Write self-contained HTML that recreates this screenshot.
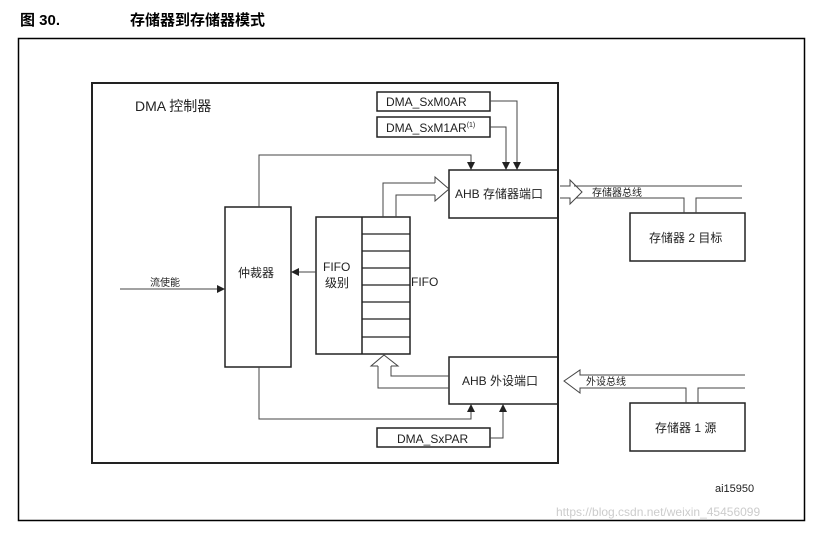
<!DOCTYPE html><html><head><meta charset="utf-8"><style>
body{margin:0;background:#fff;width:827px;height:530px;overflow:hidden}
</style></head><body>
<svg width="827" height="530" xmlns="http://www.w3.org/2000/svg" font-family="Liberation Sans, Noto Sans CJK SC, sans-serif">
<text x="20" y="25" font-size="15" font-weight="bold">图 30.</text>
<text x="130" y="25" font-size="15" font-weight="bold" font-family="Noto Sans CJK SC, sans-serif">存储器到存储器模式</text>
<rect x="18.5" y="38.5" width="786" height="482" fill="none" stroke="#000" stroke-width="1.5"/>
<rect x="92" y="83" width="466" height="380" fill="none" stroke="#222" stroke-width="2"/>
<text x="135" y="111" font-size="14" fill="#222">DMA 控制器</text>
<g fill="none" stroke="#222" stroke-width="1.5">
<rect x="377" y="92" width="113" height="19"/>
<rect x="377" y="117" width="113" height="20"/>
<rect x="449" y="170" width="109" height="48"/>
<rect x="225" y="207" width="66" height="160"/>
<rect x="316" y="217" width="94" height="137"/>
<line x1="362" y1="217" x2="362" y2="354"/>
<rect x="449" y="357" width="109" height="47"/>
<rect x="377" y="428" width="113" height="19"/>
<rect x="630" y="213" width="115" height="48"/>
<rect x="630" y="403" width="115" height="48"/>
</g>
<g stroke="#222" stroke-width="1.2">
<line x1="362" y1="234" x2="410" y2="234"/><line x1="362" y1="251" x2="410" y2="251"/>
<line x1="362" y1="268" x2="410" y2="268"/><line x1="362" y1="285" x2="410" y2="285"/>
<line x1="362" y1="302" x2="410" y2="302"/><line x1="362" y1="319" x2="410" y2="319"/>
<line x1="362" y1="337" x2="410" y2="337"/>
</g>
<g fill="none" stroke="#444" stroke-width="1">
<polyline points="490,101 517,101 517,163"/>
<polyline points="490,127 506,127 506,163"/>
<polyline points="259,207 259,155 471,155 471,163"/>
<polyline points="259,367 259,419 471,419 471,411"/>
<polyline points="490,438 503,438 503,411"/>
<line x1="316" y1="272" x2="298" y2="272"/>
<line x1="120" y1="289" x2="218" y2="289"/>
<polyline points="383,217 383,183 435,183"/>
<polyline points="396,217 396,195 435,195"/>
<polyline points="435,183 435,177 449,189 435,201 435,195"/>
<polyline points="449,376 391,376 391,366"/>
<polyline points="449,388 378,388 378,366"/>
<polyline points="378,366 371,366 384,355 398,366 391,366"/>
<polyline points="560,186 570,186 570,180 582,192 570,204 570,198 560,198"/>
<polyline points="574,186 742,186"/>
<polyline points="576,198 684,198 684,213"/>
<polyline points="696,213 696,198 742,198"/>
<polyline points="745,375 580,375 580,370 564,381 580,393 580,388 686,388 686,403"/>
<polyline points="698,403 698,388 745,388"/>
</g>
<g fill="#222">
<polygon points="517,170 513,162 521,162"/><polygon points="506,170 502,162 510,162"/>
<polygon points="471,170 467,162 475,162"/><polygon points="471,404 467,412 475,412"/>
<polygon points="503,404 499,412 507,412"/><polygon points="291,272 299,268 299,276"/>
<polygon points="225,289 217,285 217,293"/>
</g>
<g font-size="12" fill="#222">
<text x="386" y="106">DMA_SxM0AR</text>
<text x="386" y="132">DMA_SxM1AR<tspan font-size="7" dy="-5">(1)</tspan></text>
<text x="455" y="198">AHB 存储器端口</text>
<text x="462" y="385">AHB 外设端口</text>
<text x="397" y="443">DMA_SxPAR</text>
<text x="238" y="277">仲裁器</text>
<text x="323" y="271">FIFO</text>
<text x="325" y="287">级别</text>
<text x="411" y="286">FIFO</text>
<text x="649" y="242">存储器 2 目标</text>
<text x="655" y="432">存储器 1 源</text>
<text x="715" y="492" font-size="11">ai15950</text>
</g>
<g font-size="10" fill="#222">
<text x="592" y="196">存储器总线</text>
<text x="586" y="385">外设总线</text>
<text x="150" y="286">流使能</text>
</g>
<text x="556" y="516" font-size="12" fill="#ccc">https://blog.csdn.net/weixin_45456099</text>
</svg>
</body></html>
